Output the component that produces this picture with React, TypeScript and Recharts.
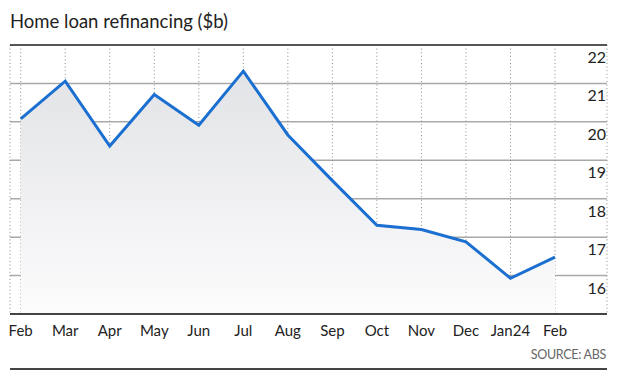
import React from 'react';
import { AreaChart, Area, XAxis, YAxis, CartesianGrid, ReferenceLine } from 'recharts';

const months = ['Feb', 'Mar', 'Apr', 'May', 'Jun', 'Jul', 'Aug', 'Sep', 'Oct', 'Nov', 'Dec', 'Jan24', 'Feb'];
const refinancing = [20.08, 21.06, 19.37, 20.71, 19.91, 21.32, 19.66, 18.47, 17.31, 17.2, 16.88, 15.93, 16.48];
const yTicks = [15, 16, 17, 18, 19, 20, 21, 22];

const data = months.map((m, i) => ({ key: i, month: m, value: refinancing[i] }));

const FONT = 'Lato, "Open Sans", sans-serif';

const YTick = (props: any) => {
  const { y, payload } = props;
  if (payload.value === 15) return null;
  return (
    <text x={606} y={y + 18} textAnchor="end" fontSize={16} fill="#222" fontFamily={FONT}>
      {payload.value}
    </text>
  );
};

const XTick = (props: any) => {
  const { x, y, payload } = props;
  return (
    <text x={x} y={y + 14} textAnchor="middle" fontSize={15} fill="#222" fontFamily={FONT}>
      {months[payload.value]}
    </text>
  );
};

const App: React.FC = () => {
  return (
    <div style={{ position: 'absolute', left: 0, top: 0, width: 620, height: 371, background: '#fff', fontFamily: FONT }}>
      <div style={{ position: 'absolute', left: 10, top: 10, fontSize: 18.5, color: '#222', whiteSpace: 'nowrap' }}>
        Home loan refinancing ($b)
      </div>
      <AreaChart
        width={620}
        height={371}
        data={data}
        margin={{ top: 45, right: 13, left: 10, bottom: 27 }}
      >
        <defs>
          <linearGradient id="fillGrad" x1="0" y1="0" x2="0" y2="1">
            <stop offset="0%" stopColor="#e2e3e6" />
            <stop offset="100%" stopColor="#fcfcfd" />
          </linearGradient>
        </defs>
        <CartesianGrid vertical={false} stroke="#a9a9a9" strokeWidth={1.5} />
        <CartesianGrid horizontal={false} stroke="#8a8a8a" strokeDasharray="1 2.6" strokeWidth={1} />
        <XAxis
          dataKey="key"
          type="category"
          padding={{ left: 10.7, right: 52 }}
          tick={<XTick />}
          tickLine={false}
          axisLine={false}
          height={30}
          interval={0}
        />
        <YAxis
          orientation="right"
          mirror
          domain={[15, 22]}
          ticks={yTicks}
          tick={<YTick />}
          tickLine={false}
          axisLine={false}
        />
        <Area
          type="linear"
          dataKey="value"
          stroke="#1a6fd0"
          strokeWidth={3}
          fill="url(#fillGrad)"
          fillOpacity={1}
          baseValue={15}
          isAnimationActive={false}
          dot={false}
          activeDot={false}
        />
        <ReferenceLine y={22} stroke="#333" strokeWidth={1.5} />
        <ReferenceLine y={15} stroke="#444" strokeWidth={2} />
      </AreaChart>
      <div style={{ position: 'absolute', right: 14, top: 347, fontSize: 12.5, color: '#666', letterSpacing: -0.3 }}>
        SOURCE: ABS
      </div>
      <div style={{ position: 'absolute', left: 10, width: 597, top: 368, height: 2, background: '#444' }} />
    </div>
  );
};

export default App;
